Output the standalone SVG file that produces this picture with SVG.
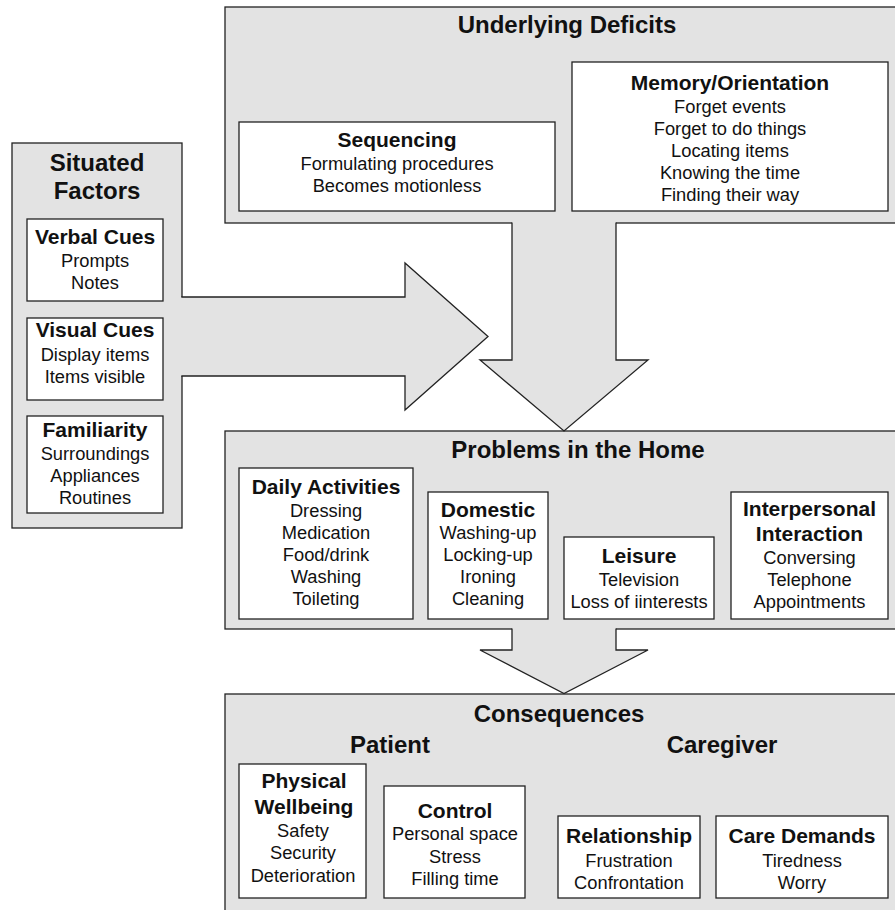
<svg xmlns="http://www.w3.org/2000/svg" width="895" height="910" viewBox="0 0 895 910">
<style>
.panel{fill:#e3e3e3;stroke:#222;stroke-width:1.3}
.box{fill:#fff;stroke:#222;stroke-width:1.3}
.afill{fill:#e3e3e3;stroke:none}
.aline{fill:none;stroke:#222;stroke-width:1.3;stroke-linejoin:miter}
text{font-family:"Liberation Sans",Arial,sans-serif;text-anchor:middle;fill:#111}
.sec{font-size:24px;font-weight:bold}
.hd{font-size:21px;font-weight:bold}
.it{font-size:18.3px}
</style>
<rect width="895" height="910" fill="#fff"/>
<g id="underlying-deficits">
<rect class="panel" x="225" y="7" width="680" height="216"/>
<text class="sec" x="567" y="33">Underlying Deficits</text>
</g>
<g id="sequencing">
<rect class="box" x="239" y="122" width="316" height="89"/>
<text class="hd" x="397" y="147">Sequencing</text>
<text class="it" x="397" y="170">Formulating procedures</text>
<text class="it" x="397" y="192">Becomes motionless</text>
</g>
<g id="memory-orientation">
<rect class="box" x="572" y="62" width="316" height="149"/>
<text class="hd" x="730" y="90">Memory/Orientation</text>
<text class="it" x="730" y="113">Forget events</text>
<text class="it" x="730" y="135">Forget to do things</text>
<text class="it" x="730" y="157">Locating items</text>
<text class="it" x="730" y="179">Knowing the time</text>
<text class="it" x="730" y="201">Finding their way</text>
</g>
<g id="situated-factors">
<rect class="panel" x="12" y="143" width="170" height="385"/>
<text class="sec" x="97" y="171">Situated</text>
<text class="sec" x="97" y="199">Factors</text>
</g>
<g id="verbal-cues">
<rect class="box" x="27" y="219" width="136" height="82"/>
<text class="hd" x="95" y="244">Verbal Cues</text>
<text class="it" x="95" y="267">Prompts</text>
<text class="it" x="95" y="289">Notes</text>
</g>
<g id="visual-cues">
<rect class="box" x="27" y="318" width="136" height="82"/>
<text class="hd" x="95" y="337">Visual Cues</text>
<text class="it" x="95" y="361">Display items</text>
<text class="it" x="95" y="383">Items visible</text>
</g>
<g id="familiarity">
<rect class="box" x="27" y="416" width="136" height="97"/>
<text class="hd" x="95" y="437">Familiarity</text>
<text class="it" x="95" y="460">Surroundings</text>
<text class="it" x="95" y="482">Appliances</text>
<text class="it" x="95" y="504">Routines</text>
</g>
<g id="problems-in-the-home">
<rect class="panel" x="225" y="431" width="680" height="198"/>
<text class="sec" x="578" y="458">Problems in the Home</text>
</g>
<g id="daily-activities">
<rect class="box" x="239" y="468" width="174" height="151"/>
<text class="hd" x="326" y="494">Daily Activities</text>
<text class="it" x="326" y="517">Dressing</text>
<text class="it" x="326" y="539">Medication</text>
<text class="it" x="326" y="561">Food/drink</text>
<text class="it" x="326" y="583">Washing</text>
<text class="it" x="326" y="605">Toileting</text>
</g>
<g id="domestic">
<rect class="box" x="428" y="492" width="120" height="127"/>
<text class="hd" x="488" y="517">Domestic</text>
<text class="it" x="488" y="539">Washing-up</text>
<text class="it" x="488" y="561">Locking-up</text>
<text class="it" x="488" y="583">Ironing</text>
<text class="it" x="488" y="605">Cleaning</text>
</g>
<g id="leisure">
<rect class="box" x="564" y="537" width="150" height="82"/>
<text class="hd" x="639" y="563">Leisure</text>
<text class="it" x="639" y="586">Television</text>
<text class="it" x="639" y="608">Loss of iinterests</text>
</g>
<g id="interpersonal-interaction">
<rect class="box" x="731" y="492" width="157" height="127"/>
<text class="hd" x="809.5" y="516">Interpersonal</text>
<text class="hd" x="809.5" y="541">Interaction</text>
<text class="it" x="809.5" y="564">Conversing</text>
<text class="it" x="809.5" y="586">Telephone</text>
<text class="it" x="809.5" y="608">Appointments</text>
</g>
<g id="consequences">
<rect class="panel" x="225" y="694" width="680" height="230"/>
<text class="sec" x="559" y="722">Consequences</text>
<text class="sec" x="390" y="753">Patient</text>
<text class="sec" x="722" y="753">Caregiver</text>
</g>
<g id="physical-wellbeing">
<rect class="box" x="239" y="764" width="127" height="134"/>
<text class="hd" x="304" y="788">Physical</text>
<text class="hd" x="304" y="814">Wellbeing</text>
<text class="it" x="303" y="837">Safety</text>
<text class="it" x="303" y="859">Security</text>
<text class="it" x="303" y="882">Deterioration</text>
</g>
<g id="control">
<rect class="box" x="384" y="786" width="141" height="112"/>
<text class="hd" x="455" y="818">Control</text>
<text class="it" x="455" y="840">Personal space</text>
<text class="it" x="455" y="863">Stress</text>
<text class="it" x="455" y="885">Filling time</text>
</g>
<g id="relationship">
<rect class="box" x="558" y="816" width="142" height="82"/>
<text class="hd" x="629" y="843">Relationship</text>
<text class="it" x="629" y="867">Frustration</text>
<text class="it" x="629" y="889">Confrontation</text>
</g>
<g id="care-demands">
<rect class="box" x="716" y="816" width="172" height="82"/>
<text class="hd" x="802" y="843">Care Demands</text>
<text class="it" x="802" y="867">Tiredness</text>
<text class="it" x="802" y="889">Worry</text>
</g>
<g id="connectors">
<polygon class="afill" points="180,297 405,297 405,263 488,336.5 405,410 405,376 180,376"/>
<polyline class="aline" points="181.3,297 405,297 405,263 488,336.5 405,410 405,376 181.3,376"/>
<polygon class="afill" points="512,221 616,221 616,360 648,360 564,431 480,360 512,360"/>
<polyline class="aline" points="512,222.4 512,360 480,360 564,431 648,360 616,360 616,222.4"/>
<polygon class="afill" points="512,627 616,627 616,650 648,650 564,693.5 480,650 512,650"/>
<polyline class="aline" points="512,628.4 512,650 480,650 564,693.5 648,650 616,650 616,628.4"/>
</g>
</svg>
